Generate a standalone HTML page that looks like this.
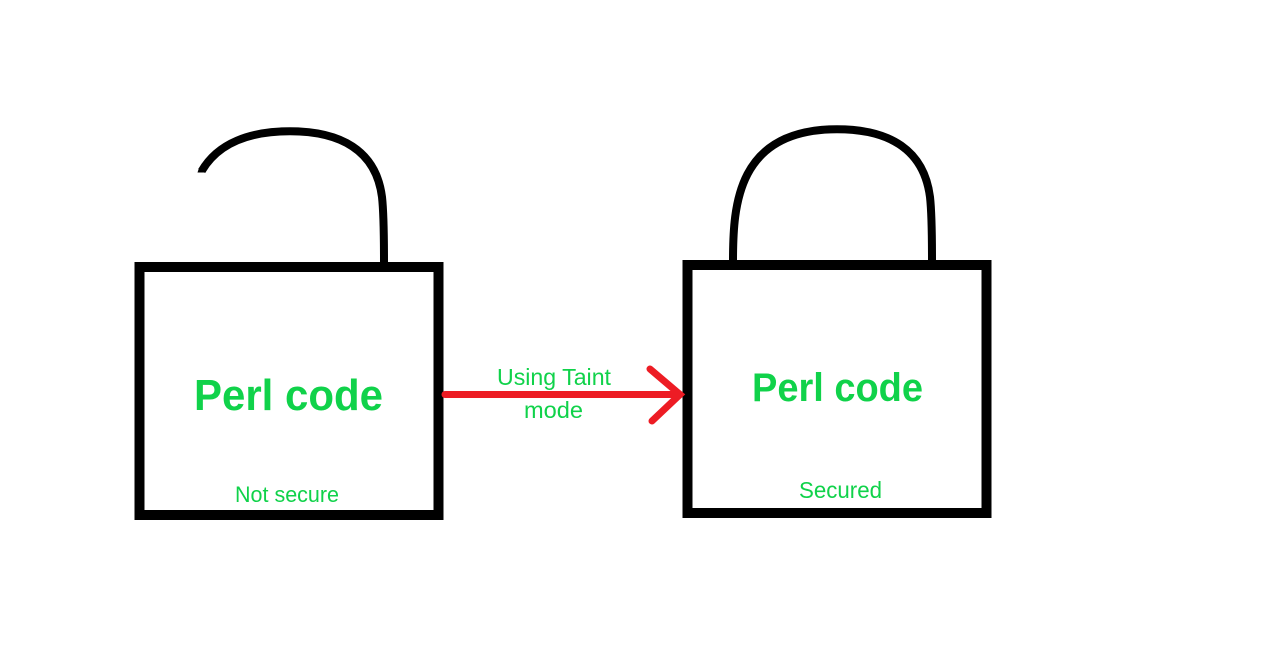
<!DOCTYPE html>
<html>
<head>
<meta charset="utf-8">
<style>
html,body{margin:0;padding:0;background:#fff;width:1284px;height:648px;overflow:hidden}
svg{display:block}
text{font-family:"Liberation Sans",sans-serif;fill:#10d24a}
</style>
</head>
<body>
<svg width="1284" height="648" viewBox="0 0 1284 648" xmlns="http://www.w3.org/2000/svg">
<rect width="1284" height="648" fill="#fff"/>
<g fill="none" stroke="#000" stroke-linejoin="round">
<rect x="139.5" y="267" width="299" height="248" stroke-width="10" stroke-linejoin="miter"/>
<rect x="687.5" y="265" width="299" height="248" stroke-width="10" stroke-linejoin="miter"/>
<path d="M201.7 171C218 143 250 131.3 290 131.3C340 131.3 376 150 382 197C384 215 384 240 384 263" stroke-width="8"/>
<path d="M733 261C733 205 737 129.3 837 129.3C890 129.3 924 150 930 197C932 215 932 240 932 261" stroke-width="8"/>
</g>
<path d="M197.5 172.5L205.5 172.5L206 170L199 168Z" fill="#000"/>
<text x="194" y="410" font-size="44" font-weight="700" textLength="189" lengthAdjust="spacingAndGlyphs">Perl code</text>
<text x="752" y="401" font-size="40" font-weight="700" textLength="171" lengthAdjust="spacingAndGlyphs">Perl code</text>
<text x="235" y="502" font-size="22" textLength="104" lengthAdjust="spacingAndGlyphs">Not secure</text>
<text x="799" y="498" font-size="23" textLength="83" lengthAdjust="spacingAndGlyphs">Secured</text>
<text x="497" y="385" font-size="23" textLength="114" lengthAdjust="spacingAndGlyphs">Using Taint</text>
<text x="524" y="418" font-size="23" textLength="59" lengthAdjust="spacingAndGlyphs">mode</text>
<g fill="none" stroke="#ed1c24" stroke-width="7" stroke-linecap="round" stroke-linejoin="miter">
<path d="M445 394.5H680"/>
<path d="M650 369L680 394.5L652 421"/>
</g>
</svg>
</body>
</html>
